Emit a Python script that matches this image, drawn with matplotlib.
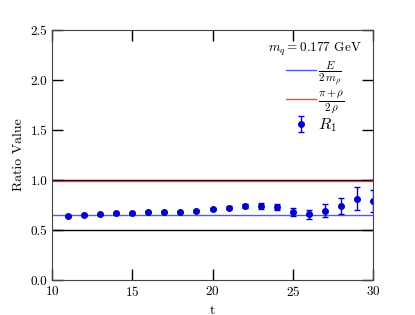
import numpy as np
import matplotlib
matplotlib.use("Agg")
import matplotlib.pyplot as plt

plt.rcParams['font.family'] = ['cmr10', 'DejaVu Serif']
plt.rcParams['mathtext.fontset'] = 'cm'
plt.rcParams['axes.formatter.use_mathtext'] = True

# data
t = [11, 12, 13, 14, 15, 16, 17, 18, 19, 20, 21, 22, 23, 24, 25, 26, 27, 28, 29, 30]
r1 = [0.637, 0.650, 0.657, 0.667, 0.673, 0.683, 0.683, 0.683, 0.687, 0.710,
      0.723, 0.740, 0.743, 0.730, 0.683, 0.657, 0.693, 0.740, 0.813, 0.787]
r1_err = [0.008, 0.008, 0.008, 0.009, 0.009, 0.010, 0.010, 0.010, 0.011, 0.012,
          0.015, 0.018, 0.030, 0.030, 0.042, 0.043, 0.065, 0.083, 0.113, 0.110]
e_over_2m = 0.65
pi_rho = 0.995
ref_lines = [0.5, 1.0]

fig = plt.figure(figsize=(4.15, 3.15), dpi=100)
ax = fig.add_axes([52/415, 35/315, 321/415, 250/315])

for v in ref_lines:
    ax.axhline(v, color='black', lw=1.0)
ax.axhline(e_over_2m, color='#4a5cff', lw=1.0, label=r'$\frac{E}{2\,m_\rho}$')
ax.axhline(pi_rho, color='#ff2020', lw=1.0, alpha=0.85, label=r'$\frac{\pi+\rho}{2\,\rho}$')
ax.errorbar(t, r1, yerr=r1_err, fmt='o', color='#0000cc', ms=4, capsize=2,
            elinewidth=1, label=r'$R_1$', clip_on=True)

ax.set_xlim(10, 30)
ax.set_ylim(0, 2.5)
ax.set_xticks([10, 15, 20, 25, 30])
ax.set_yticks([0.0, 0.5, 1.0, 1.5, 2.0, 2.5])
ax.set_yticklabels(['0.0', '0.5', '1.0', '1.5', '2.0', '2.5'])
ax.tick_params(direction='in', length=8, width=1, top=True, right=True, labelsize=9.5)
for s in ax.spines.values():
    s.set_color('#444444')

ax.set_xlabel('t', fontsize=10)
ax.set_ylabel('Ratio Value', fontsize=10)

leg = ax.legend(loc='upper right', frameon=False, title=r'$m_q = 0.177$ GeV',
                fontsize=11.5, title_fontsize=9.5, handlelength=1.9,
                handletextpad=0.1, labelspacing=0.05, borderaxespad=0.3)

fig.savefig('out.png', dpi=100)
